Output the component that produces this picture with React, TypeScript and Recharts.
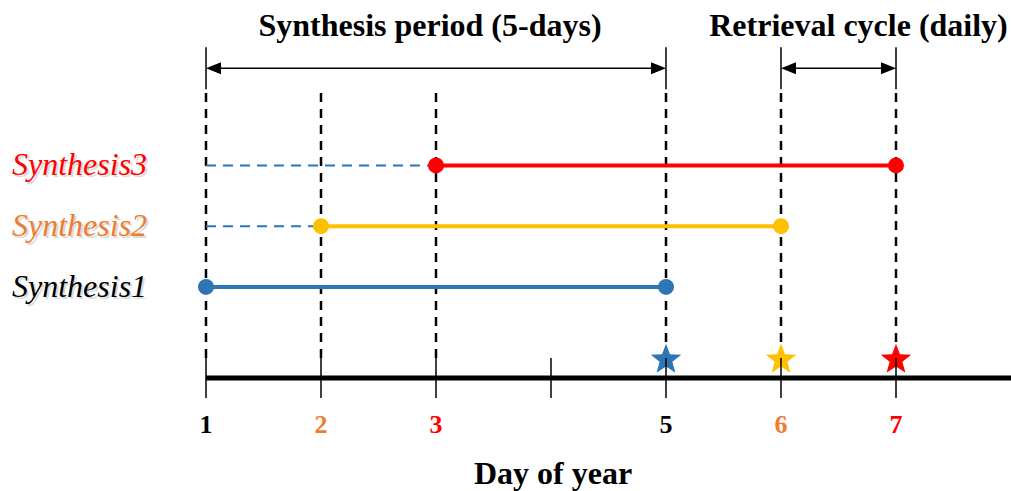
import React from 'react';
import { ComposedChart, Line, Scatter, XAxis, YAxis, ReferenceLine } from 'recharts';

// timeline days and labels
const days = [1, 2, 3, 4, 5, 6, 7];
const dayLabels = ['1', '2', '3', '', '5', '6', '7'];
const guideDays = [1, 2, 3, 5, 6, 7];

// synthesis windows (row level, first day, last day)
const rowNames = ['Synthesis1', 'Synthesis2', 'Synthesis3'];
const rowLevels = [1, 2, 3];
const synthStart = [1, 2, 3];
const synthEnd = [5, 6, 7];
const leadInStart = [1, 1, 1];

// retrieval stars
const retrievalDays = [5, 6, 7];
const starLevel = -0.2;

// guide / arrow levels on the y scale
const guideTop = 4.24;
const guideBottom = -0.17;
const arrowLevel = 4.6;
const synthesisSpan = [1, 5];
const retrievalSpan = [6, 7];

const ROW_COLORS = ['#2E75B6', '#FFC000', '#FF0000'];
const LABEL_COLORS = ['#000000', '#ED7D31', '#FF0000'];
const TICK_COLORS: Record<number, string> = {
  1: '#000000',
  2: '#ED7D31',
  3: '#FF0000',
  4: '#000000',
  5: '#000000',
  6: '#ED7D31',
  7: '#FF0000',
};
const SERIF = "'Liberation Serif', 'Times New Roman', serif";

const DayTick = (props: any) => {
  const { x, y, payload } = props;
  const idx = days.indexOf(payload.value);
  return (
    <g>
      <line x1={x} x2={x} y1={y - 20} y2={y + 20} stroke="#000" strokeWidth={1.5} />
      <text
        x={x}
        y={y + 55}
        textAnchor="middle"
        fontFamily={SERIF}
        fontWeight="bold"
        fontSize={26}
        fill={TICK_COLORS[payload.value]}
      >
        {dayLabels[idx]}
      </text>
    </g>
  );
};

const RowTick = (props: any) => {
  const { y, payload } = props;
  const i = rowLevels.indexOf(payload.value);
  if (i < 0) return <g />;
  return (
    <g>
      <text x={14} y={y + 12} fill="#888" opacity={0.3} fontFamily={SERIF} fontStyle="italic" fontSize={32}>
        {rowNames[i]}
      </text>
      <text x={12} y={y + 10} fill={LABEL_COLORS[i]} fontFamily={SERIF} fontStyle="italic" fontSize={32}>
        {rowNames[i]}
      </text>
    </g>
  );
};

const Star = (props: any) => {
  const { cx, cy, payload } = props;
  const R = 16;
  const r = R * 0.42;
  const pts: string[] = [];
  for (let k = 0; k < 10; k++) {
    const a = ((-90 + k * 36) * Math.PI) / 180;
    const rad = k % 2 === 0 ? R : r;
    pts.push(`${cx + rad * Math.cos(a)},${cy + rad * Math.sin(a)}`);
  }
  return <polygon points={pts.join(' ')} fill={payload.fill} />;
};

const Arrow = (props: any) => {
  const x1 = Number(props.x1);
  const x2 = Number(props.x2);
  const y = Number(props.y1);
  const { title, dx } = props;
  const h = 15;
  const w = 6;
  return (
    <g>
      <line x1={x1} x2={x1} y1={y - 21} y2={y + 21} stroke="#000" strokeWidth={1.5} />
      <line x1={x2} x2={x2} y1={y - 21} y2={y + 21} stroke="#000" strokeWidth={1.5} />
      <line x1={x1 + h} x2={x2 - h} y1={y} y2={y} stroke="#000" strokeWidth={1.5} />
      <polygon points={`${x1},${y} ${x1 + h},${y - w} ${x1 + h},${y + w}`} fill="#000" />
      <polygon points={`${x2},${y} ${x2 - h},${y - w} ${x2 - h},${y + w}`} fill="#000" />
      <text
        x={(x1 + x2) / 2 + dx}
        y={y - 32}
        textAnchor="middle"
        fontFamily={SERIF}
        fontWeight="bold"
        fontSize={32}
        fill="#000"
      >
        {title}
      </text>
    </g>
  );
};

export default function App() {
  const stars = retrievalDays.map((d, i) => ({ x: d, y: starLevel, fill: ROW_COLORS[i] }));

  return (
    <div style={{ position: 'absolute', left: 0, top: 0, width: 1011, height: 491, background: '#fff' }}>
      <ComposedChart width={1011} height={491} margin={{ top: 44, right: 0, bottom: 0, left: 0 }}>
        <XAxis
          type="number"
          dataKey="x"
          domain={[1, 8]}
          ticks={days}
          height={113}
          tickSize={0}
          tickMargin={0}
          tickLine={false}
          axisLine={{ stroke: '#000', strokeWidth: 5 }}
          tick={<DayTick />}
        />
        <YAxis
          type="number"
          dataKey="y"
          domain={[-0.5, 5]}
          ticks={rowLevels}
          width={206}
          axisLine={false}
          tickLine={false}
          tick={<RowTick />}
        />

        {guideDays.map(d => (
          <ReferenceLine
            key={`g-${d}`}
            segment={[{ x: d, y: guideBottom }, { x: d, y: guideTop }]}
            stroke="#000"
            strokeWidth={2.5}
            strokeDasharray="9 7"
          />
        ))}

        <ReferenceLine
          segment={[{ x: synthesisSpan[0], y: arrowLevel }, { x: synthesisSpan[1], y: arrowLevel }]}
          shape={(p: any) => <Arrow {...p} title="Synthesis period (5-days)" dx={-6} />}
        />
        <ReferenceLine
          segment={[{ x: retrievalSpan[0], y: arrowLevel }, { x: retrievalSpan[1], y: arrowLevel }]}
          shape={(p: any) => <Arrow {...p} title="Retrieval cycle (daily)" dx={20} />}
        />

        {rowLevels.map((lvl, i) =>
          synthStart[i] > leadInStart[i] ? (
            <Line
              key={`lead-${i}`}
              data={[{ x: leadInStart[i], y: lvl }, { x: synthStart[i], y: lvl }]}
              dataKey="y"
              stroke="#2E75B6"
              strokeWidth={2}
              strokeDasharray="10 7"
              dot={false}
              activeDot={false}
              isAnimationActive={false}
            />
          ) : null
        )}

        {rowLevels.map((lvl, i) => (
          <Line
            key={`row-${i}`}
            data={[{ x: synthStart[i], y: lvl }, { x: synthEnd[i], y: lvl }]}
            dataKey="y"
            stroke={ROW_COLORS[i]}
            strokeWidth={4}
            dot={{ r: 8, fill: ROW_COLORS[i], stroke: ROW_COLORS[i], strokeWidth: 0 }}
            activeDot={false}
            isAnimationActive={false}
          />
        ))}

        <Scatter data={stars} dataKey="y" shape={<Star />} isAnimationActive={false} />
      </ComposedChart>
      <div
        style={{
          position: 'absolute',
          left: 0,
          top: 0,
          width: 1011,
          height: 491,
          pointerEvents: 'none',
        }}
      >
        <svg width={1011} height={491}>
          <text x={553} y={484} textAnchor="middle" fontFamily={SERIF} fontWeight="bold" fontSize={32} fill="#000">
            Day of year
          </text>
        </svg>
      </div>
    </div>
  );
}
